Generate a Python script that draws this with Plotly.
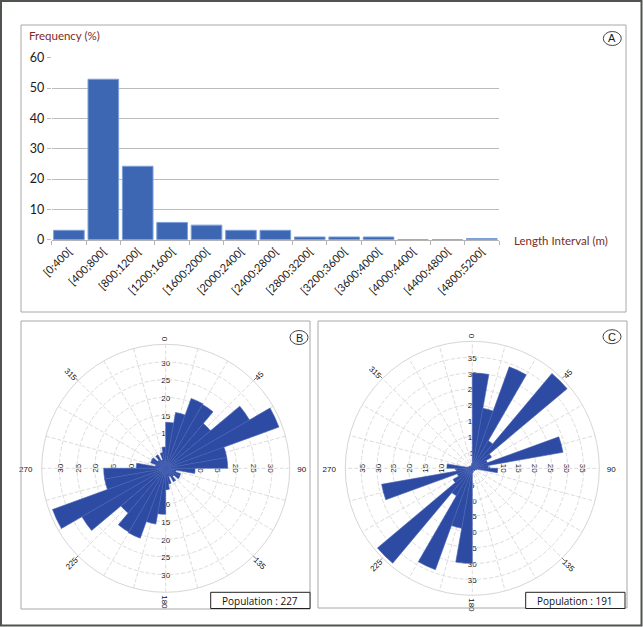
import math
import plotly.graph_objects as go

W, H = 643, 627

# ---------------- data ----------------
# panel A : length distribution
INTERVALS = ["[0;400[", "[400;800[", "[800;1200[", "[1200;1600[", "[1600;2000[",
             "[2000;2400[", "[2400;2800[", "[2800;3200[", "[3200;3600[",
             "[3600;4000[", "[4000;4400[", "[4400;4800[", "[4800;5200["]
FREQ = [3.1, 52.9, 24.2, 5.7, 4.8, 3.1, 3.1, 0.9, 0.9, 0.9, 0.0, 0.0, 0.4]

# panels B and C : rose diagrams, 10 degree bins (bin centres)
THETA = list(range(5, 360, 10))
ROSE_B = [13, 16, 21, 20.8, 16.5, 27.3, 34, 17.5, 17.5,
          8.3, 3, 4.5, 4.6, 3, 4.4, 2.5, 4.5, 6,
          13, 16, 21, 20.8, 16.5, 27.3, 34, 17.5, 17.5,
          8.3, 3, 4.5, 4.6, 3, 4.4, 2.5, 4.5, 6]
ROSE_C = [30, 19.2, 34, 10, 39, 7, 5, 29, 5,
          8, 1.5, 1, 1, 1, 0.5, 0.5, 1, 1.5,
          30, 19.2, 34, 10, 39, 7, 5, 29, 5,
          8, 1.5, 1, 1, 1, 0.5, 0.5, 1, 1.5]
RTICKS_B = [5, 10, 15, 20, 25, 30]
RTICKS_C = [5, 10, 15, 20, 25, 30, 35]
ANG_TICKS = [0, 45, 90, 135, 180, 225, 270, 315]
POP_B, POP_C = 227, 191

# ---------------- geometry (pixels) ----------------
ROSE_GEOM = {
    "B": dict(cx=165.7, cy=468.3, rad=124, rmax=35),
    "C": dict(cx=472.3, cy=468.3, rad=127, rmax=40),
}

BAR_BLUE = "#3d67b3"
ROSE_BLUE = "#2e4ba3"
BROWN = "#7b2c1c"
BOX_GREY = "#a8a8a8"
GRID = "#dcdcdc"


def px(x):
    return x / W


def py(y):
    return 1 - y / H


def text_mark(x, y, text, angle, size=8, color="#111111"):
    # invisible tiny shape below the traces, carrying a rotated label
    e = 0.3
    return dict(type="rect", xref="paper", yref="paper", layer="below",
                x0=px(x - e), x1=px(x + e), y0=py(y + e), y1=py(y - e),
                line=dict(width=0, color="rgba(0,0,0,0)"),
                label=dict(text=text, textangle=angle, textposition="middle center",
                           padding=0,
                           font=dict(family="Liberation Sans", size=size, color=color)))


fig = go.Figure()

# ---------------- panel A ----------------
fig.add_trace(go.Bar(
    x=INTERVALS, y=FREQ,
    marker=dict(color=BAR_BLUE, line=dict(color="#7d9fdb", width=1)),
    xaxis="x", yaxis="y", showlegend=False,
))

# ---------------- panels B and C ----------------
fig.add_trace(go.Barpolar(r=ROSE_B, theta=THETA, width=10, subplot="polar",
                          marker=dict(color=ROSE_BLUE, line=dict(color="#4762b3", width=0.6)),
                          showlegend=False))
fig.add_trace(go.Barpolar(r=ROSE_C, theta=THETA, width=10, subplot="polar2",
                          marker=dict(color=ROSE_BLUE, line=dict(color="#4762b3", width=0.6)),
                          showlegend=False))


def polar_layout(g):
    x0, x1 = g["cx"] - g["rad"], g["cx"] + g["rad"]
    y0, y1 = g["cy"] - g["rad"], g["cy"] + g["rad"]
    return dict(
        domain=dict(x=[px(x0), px(x1)], y=[py(y1), py(y0)]),
        bgcolor="rgba(0,0,0,0)",
        angularaxis=dict(rotation=90, direction="clockwise", tickmode="linear",
                         tick0=0, dtick=15, showticklabels=False, ticks="",
                         gridcolor=GRID, griddash="4px,2px", gridwidth=1,
                         showline=True, linecolor="#d6d6d6", linewidth=1),
        radialaxis=dict(range=[0, g["rmax"]], tickmode="linear", tick0=0, dtick=5,
                        showticklabels=False, ticks="", showline=False,
                        gridcolor=GRID, griddash="4px,2px", gridwidth=1),
    )


shapes = []
annotations = []

# radial and angular labels (drawn below the petals)
for key, rticks in (("B", RTICKS_B), ("C", RTICKS_C)):
    g = ROSE_GEOM[key]
    k = g["rad"] / g["rmax"]
    for direction, ang in ((0, 0), (90, 90), (180, 0), (270, -90)):
        a = math.radians(direction)
        for v in rticks:
            x = g["cx"] + v * k * math.sin(a)
            y = g["cy"] - v * k * math.cos(a)
            shapes.append(text_mark(x, y, str(v), ang))
    for t in ANG_TICKS:
        a = math.radians(t)
        lab = str(t)
        tang = {0: 90, 45: -45, 90: 0, 135: 45, 180: 90, 225: -45, 270: 0, 315: 45}[t]
        extra = 4 + 4 * len(lab) if t in (90, 270) else 3 + 2.2 * len(lab)
        r = g["rad"] + extra
        x = g["cx"] + r * math.sin(a)
        y = g["cy"] - r * math.cos(a)
        shapes.append(text_mark(x, y, lab, tang))
        # short tick dash between the circle and the label
        if t % 90:
            r0, r1 = g["rad"], g["rad"] + 4
            shapes.append(dict(type="line", xref="paper", yref="paper", layer="below",
                               x0=px(g["cx"] + r0 * math.sin(a)), y0=py(g["cy"] - r0 * math.cos(a)),
                               x1=px(g["cx"] + r1 * math.sin(a)), y1=py(g["cy"] - r1 * math.cos(a)),
                               line=dict(color="#555", width=0.8)))

# panel frames
for (x0, y0, x1, y1) in ((21, 25, 626, 312), (21, 321, 310, 609), (318, 321, 627, 608)):
    shapes.append(dict(type="rect", xref="paper", yref="paper", layer="above",
                       x0=px(x0), x1=px(x1), y0=py(y1), y1=py(y0),
                       line=dict(color=BOX_GREY, width=1)))
# outer frame
shapes.append(dict(type="rect", xref="paper", yref="paper", layer="above",
                   x0=px(1), x1=px(641.5), y0=py(625.5), y1=py(1),
                   line=dict(color="#4f544f", width=2)))

# panel letters in ellipses
for letter, cx, cy in (("A", 612.3, 38.5), ("B", 299, 337.5), ("C", 612, 336.7)):
    shapes.append(dict(type="circle", xref="paper", yref="paper", layer="above",
                       x0=px(cx - 9), x1=px(cx + 9), y0=py(cy + 7), y1=py(cy - 7),
                       line=dict(color="#444", width=1), fillcolor="white"))
    annotations.append(dict(text=letter, x=px(cx), y=py(cy), xref="paper", yref="paper",
                            showarrow=False, xanchor="center", yanchor="middle",
                            font=dict(family="Liberation Sans", size=11, color="#222")))

# population boxes
for pop, x0, x1 in ((POP_B, 210.7, 310), (POP_C, 525.7, 625)):
    shapes.append(dict(type="rect", xref="paper", yref="paper", layer="above",
                       x0=px(x0), x1=px(x1), y0=py(608.5), y1=py(592.3),
                       line=dict(color="#222", width=1), fillcolor="white"))
    annotations.append(dict(text=f"Population : {pop}", x=px((x0 + x1) / 2), y=py(600.5),
                            xref="paper", yref="paper", showarrow=False,
                            xanchor="center", yanchor="middle",
                            font=dict(family="Open Sans", size=10, color="#111")))

# axis titles of panel A
annotations.append(dict(text="Frequency (%)", x=px(26.5), y=py(36), xref="paper", yref="paper",
                        showarrow=False, xanchor="left", yanchor="middle",
                        font=dict(family="Lato", size=11.5, color=BROWN)))
annotations.append(dict(text="Length Interval (m)", x=px(512), y=py(240.5), xref="paper",
                        yref="paper", showarrow=False, xanchor="left", yanchor="middle",
                        font=dict(family="Lato", size=11.5, color=BROWN)))

fig.update_layout(
    template="none",
    width=W, height=H,
    margin=dict(l=0, r=0, t=0, b=0, pad=0, autoexpand=False),
    paper_bgcolor="white", plot_bgcolor="white",
    font=dict(color="#111111"),
    bargap=0.11,
    xaxis=dict(domain=[px(51.7), px(499)], anchor="y", type="category", automargin=False,
               showline=True, linecolor="#b4b4b4", linewidth=1,
               ticks="outside", tickson="boundaries", ticklen=4, tickcolor="#b4b4b4",
               tickangle=-45, showgrid=False,
               tickfont=dict(family="Lato", size=11, color="#1a1a1a")),
    yaxis=dict(domain=[py(239.7), py(57.7)], anchor="x", range=[0, 60], automargin=False,
               tickmode="linear", tick0=0, dtick=10,
               showgrid=True, gridcolor="#bcbcbc", gridwidth=1, zeroline=False,
               showline=False, ticks="outside", ticklen=4, tickcolor="#bcbcbc",
               tickfont=dict(family="Lato", size=12.5, color="#1a1a1a")),
    polar=polar_layout(ROSE_GEOM["B"]),
    polar2=polar_layout(ROSE_GEOM["C"]),
    shapes=shapes,
    annotations=annotations,
)

page_css = ("var s=document.createElement('style');"
            "s.textContent='html,body{margin:0!important;padding:0!important;overflow:hidden;}';"
            "document.head.appendChild(s);")
fig.write_html("out.html", config={"displayModeBar": False}, post_script=page_css)
